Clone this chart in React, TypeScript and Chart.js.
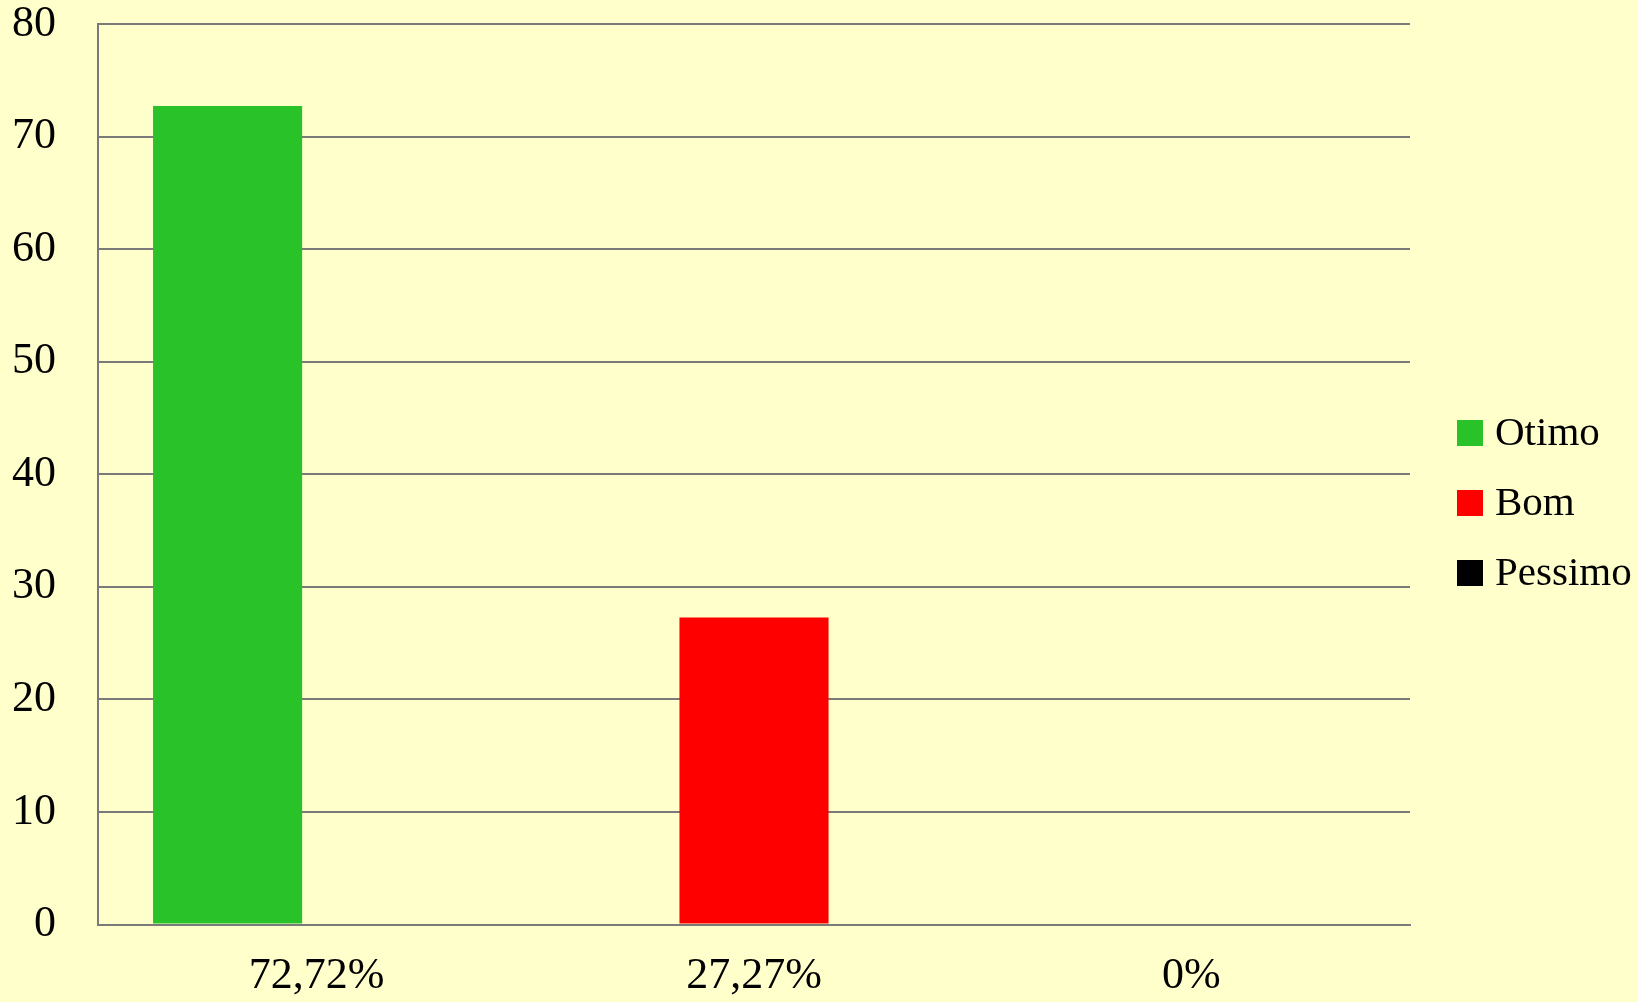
import React, { useEffect, useRef } from "react";
import { Chart, registerables } from "chart.js";

Chart.register(...registerables);

const categories = ["72,72%", "27,27%", "0%"];
const seriesNames = ["Otimo", "Bom", "Pessimo"];
const otimoValues = [72.72, null, null];
const bomValues = [null, 27.27, null];
const pessimoValues = [null, null, 0];
const seriesColors = ["#29C329", "#FF0000", "#000000"];
const yMin = 0;
const yMax = 80;
const yStep = 10;

const FONT = "'Liberation Serif', 'DejaVu Serif', serif";
const GRID = "#7a7a7a";

const sideLegend = {
  id: "sideLegend",
  afterDraw(chart: any) {
    const ctx = chart.ctx;
    const ds = chart.data.datasets;
    const n = ds.length;
    const spacing = 70;
    const cy = chart.height / 2 + 2;
    const boxX = chart.chartArea.right + 47;
    const box = 26;
    ctx.save();
    ds.forEach((d: any, i: number) => {
      const y = cy + (i - (n - 1) / 2) * spacing;
      ctx.fillStyle = d.backgroundColor;
      ctx.fillRect(boxX, y - box / 2, box, box);
      ctx.fillStyle = "#000";
      ctx.font = `41px ${FONT}`;
      ctx.textBaseline = "alphabetic";
      ctx.textAlign = "left";
      ctx.fillText(d.label, boxX + box + 12, y + 12);
    });
    ctx.restore();
  },
};

export default function App() {
  const ref = useRef<HTMLCanvasElement | null>(null);

  useEffect(() => {
    if (!ref.current) return;
    const seriesData = [otimoValues, bomValues, pessimoValues];
    const chart = new Chart(ref.current, {
      type: "bar",
      data: {
        labels: categories,
        datasets: seriesNames.map((name, i) => ({
          label: name,
          data: seriesData[i] as any,
          backgroundColor: seriesColors[i],
          borderWidth: 0,
          categoryPercentage: 0.611,
          barPercentage: 1.674,
        })),
      },
      options: {
        responsive: false,
        animation: false,
        devicePixelRatio: 1,
        layout: { padding: { left: 0, right: 228, top: 0, bottom: 0 } },
        plugins: {
          legend: { display: false },
          tooltip: { enabled: false },
        },
        scales: {
          x: {
            type: "category",
            offset: true,
            grid: { display: false, drawTicks: false },
            border: { display: true, color: GRID, width: 2 },
            ticks: {
              color: "#000",
              font: { family: FONT, size: 44 },
              padding: 26,
              maxRotation: 0,
            },
            afterFit: (s: any) => {
              s.height = 77.5;
              s.paddingLeft = 0;
              s.paddingRight = 0;
            },
          },
          y: {
            min: yMin,
            max: yMax,
            ticks: {
              stepSize: yStep,
              color: "#000",
              font: { family: FONT, size: 44 },
              padding: 42,
            },
            grid: { color: GRID, lineWidth: 2, drawTicks: false },
            border: { display: true, color: GRID, width: 2 },
            afterFit: (s: any) => {
              s.width = 98;
              s.paddingTop = 24;
              s.paddingBottom = 0;
            },
          },
        },
      },
      plugins: [sideLegend],
    });
    return () => chart.destroy();
  }, []);

  return (
    <div
      style={{
        position: "fixed",
        left: 0,
        top: 0,
        width: 1638,
        height: 1002,
        background: "#FFFFCC",
      }}
    >
      <canvas ref={ref} width={1638} height={1002} style={{ display: "block" }} />
    </div>
  );
}
